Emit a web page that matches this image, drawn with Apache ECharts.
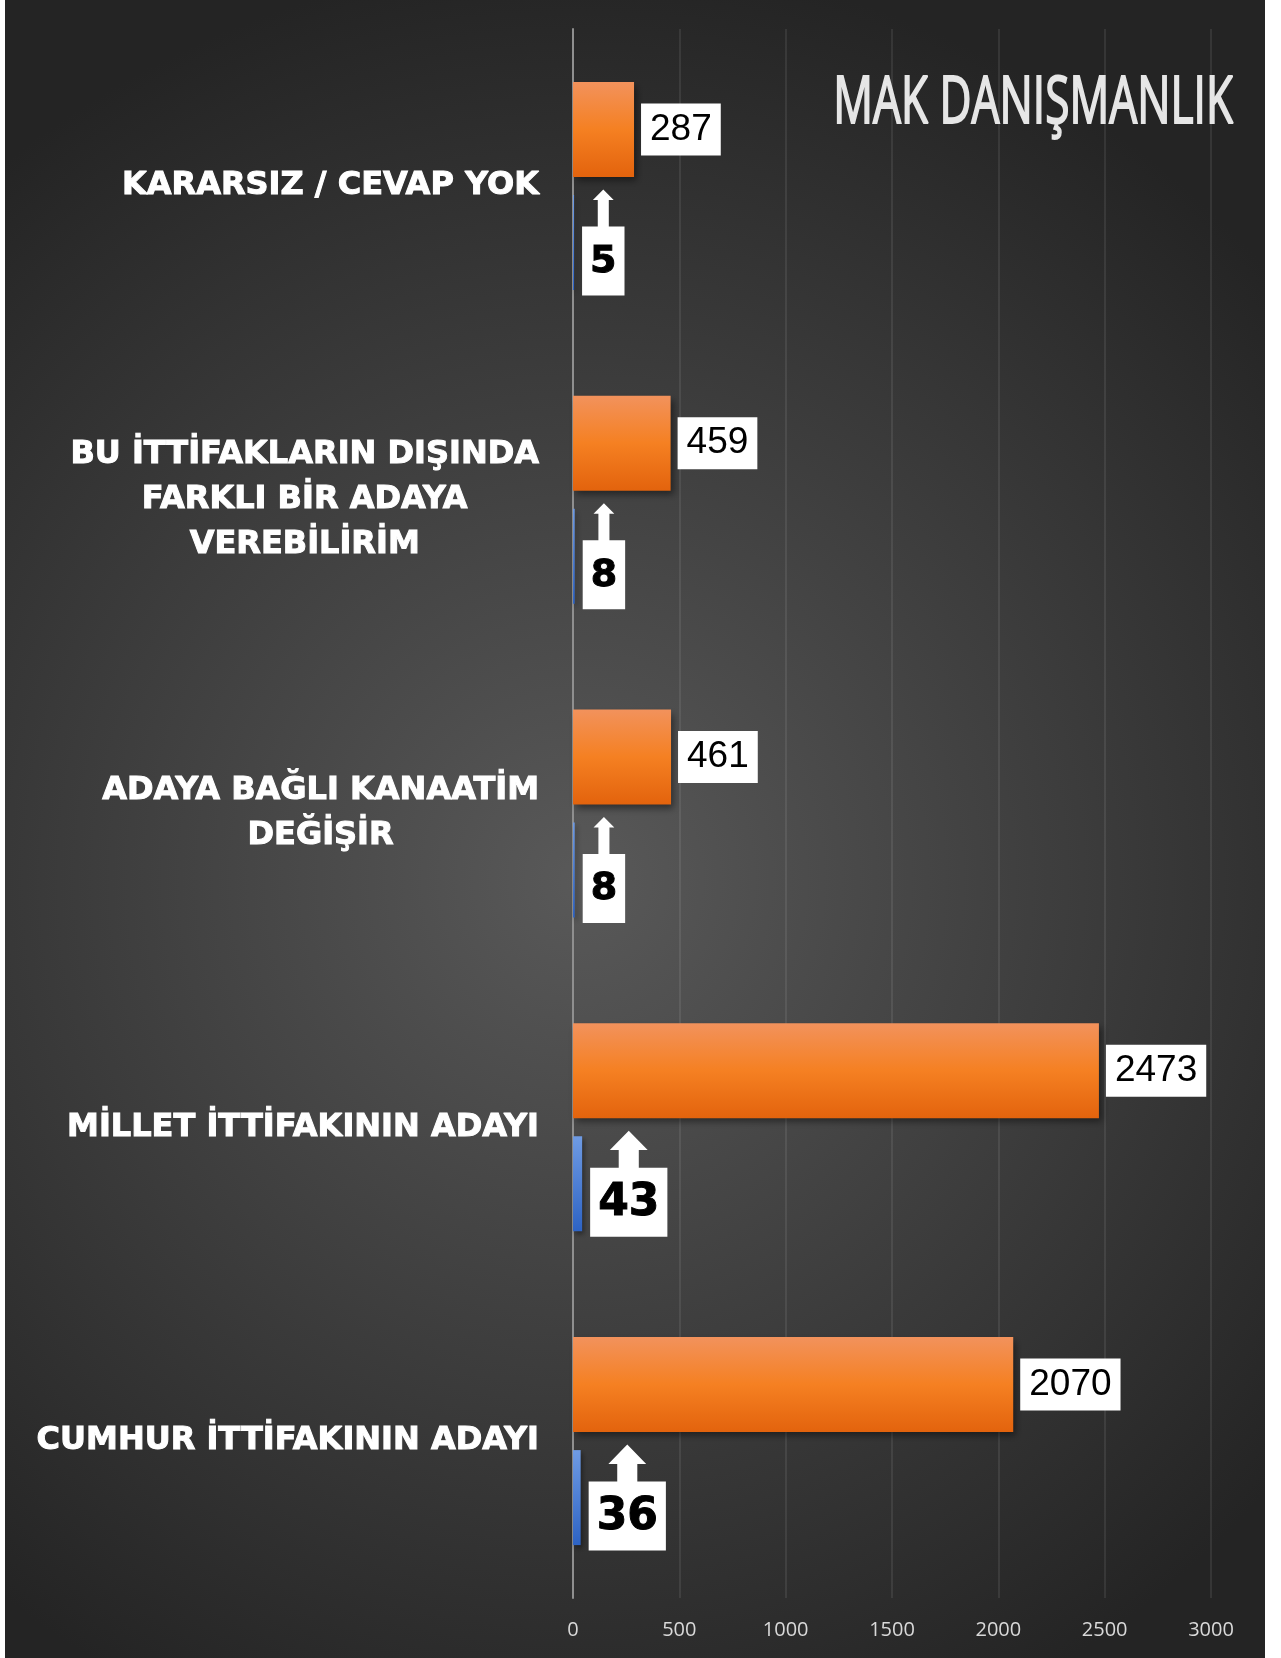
<!DOCTYPE html>
<html>
<head>
<meta charset="utf-8">
<script src="https://cdn.jsdelivr.net/npm/echarts@6/dist/echarts.min.js"></script>
<style>
  html, body { margin: 0; padding: 0; background: #ffffff; }
  #chart { width: 1281px; height: 1658px; }
</style>
</head>
<body>
<div id="chart"></div>
<script>
// Categories, bottom to top
const categories = [
  'CUMHUR İTTİFAKININ ADAYI',
  'MİLLET İTTİFAKININ ADAYI',
  'ADAYA BAĞLI KANAATİM\nDEĞİŞİR',
  'BU İTTİFAKLARIN DIŞINDA\nFARKLI BİR ADAYA\nVEREBİLİRİM',
  'KARARSIZ / CEVAP YOK'
];
const orangeValues = [2070, 2473, 461, 459, 287];
const blueValues = [36, 43, 8, 8, 5];
const axisMin = 0;
const axisMax = 3000;
const axisStep = 500;
const watermarkText = 'MAK DANIŞMANLIK';

// Bar geometry (px)
const BAR_W = 95;
const BAR_GAP_PX = 18;

const chart = echarts.init(document.getElementById('chart'), null, { renderer: 'canvas' });

const measureCtx = document.createElement('canvas').getContext('2d');

// Up-arrow callout drawn beside each blue bar
function renderCallout(params, api) {
  const v = api.value(0);
  const c = api.value(1);
  const p = api.coord([v, c]);
  const yc = p[1] + (BAR_W + BAR_GAP_PX) / 2;
  const txt = String(v);
  const fs = txt.length > 1 ? 44 : 38;
  const font = 'bold ' + fs + 'px "DejaVu Sans"';
  measureCtx.font = font;
  const tw = measureCtx.measureText(txt).width;
  const boxW = tw + 16;
  const boxH = 69;
  const arrowH = 37;
  const x0 = p[0] + 8;
  const top = yc - (boxH + arrowH) / 2;
  const boxTop = top + arrowH;
  const cx = x0 + boxW / 2;
  const headW = boxW * 0.49;
  const shaftW = boxW * 0.26;
  const headH = boxW * 0.25;
  return {
    type: 'group',
    children: [
      {
        type: 'polygon',
        shape: {
          points: [
            [cx, top],
            [cx + headW / 2, top + headH],
            [cx + shaftW / 2, top + headH],
            [cx + shaftW / 2, boxTop + 1],
            [cx - shaftW / 2, boxTop + 1],
            [cx - shaftW / 2, top + headH],
            [cx - headW / 2, top + headH]
          ]
        },
        style: { fill: '#ffffff' }
      },
      {
        type: 'rect',
        shape: { x: x0, y: boxTop, width: boxW, height: boxH },
        style: { fill: '#ffffff' }
      },
      {
        type: 'text',
        style: {
          text: txt,
          x: cx,
          y: boxTop + boxH / 2 + 1,
          align: 'center',
          verticalAlign: 'middle',
          font: font,
          fill: '#000000',
          stroke: '#000000',
          lineWidth: 1
        }
      }
    ]
  };
}

const option = {
  animation: false,
  backgroundColor: '#ffffff',
  graphic: {
    elements: [
      {
        type: 'rect',
        silent: true,
        z: -100,
        shape: { x: 5, y: 0, width: 1260, height: 1658 },
        style: {
          fill: new echarts.graphic.RadialGradient(580, 880, 920, [
            { offset: 0, color: '#595959' },
            { offset: 1, color: '#242424' }
          ], true)
        }
      },
      {
        type: 'text',
        silent: true,
        z: 10,
        x: 1233,
        y: 104,
        scaleX: 0.67,
        style: {
          text: watermarkText,
          font: '66px "Open Sans"',
          fill: '#e6e6e6',
          stroke: '#e6e6e6',
          lineWidth: 2,
          align: 'right',
          verticalAlign: 'middle',
          shadowBlur: 5,
          shadowColor: 'rgba(255,255,255,0.6)'
        }
      }
    ]
  },
  grid: {
    left: 573,
    right: 70,
    top: 29,
    bottom: 60,
    containLabel: false
  },
  xAxis: {
    type: 'value',
    min: axisMin,
    max: axisMax,
    interval: axisStep,
    axisLine: { show: false },
    axisTick: { show: false },
    splitLine: { show: true, lineStyle: { color: 'rgba(255,255,255,0.11)', width: 1.5 } },
    axisLabel: {
      color: '#d9d9d9',
      fontFamily: '"Open Sans"',
      fontSize: 20,
      margin: 22,
      formatter: function (v) { return String(v); }
    }
  },
  yAxis: {
    type: 'category',
    data: categories,
    axisLine: { show: true, lineStyle: { color: '#8f8f8f', width: 2 } },
    axisTick: { show: false },
    splitLine: { show: false },
    axisLabel: {
      margin: 34,
      formatter: function (val) {
        return val.split('\n').map(function (l) { return '{c|' + l + '}'; }).join('\n');
      },
      rich: {
        c: {
          fontFamily: '"DejaVu Sans"',
          fontWeight: 'bold',
          fontSize: 32,
          lineHeight: 45,
          color: '#ffffff',
          textBorderColor: '#ffffff',
          textBorderWidth: 1,
          align: 'center'
        }
      }
    }
  },
  series: [
    {
      name: 'orange',
      type: 'bar',
      data: orangeValues,
      barWidth: BAR_W,
      barGap: (BAR_GAP_PX / BAR_W * 100) + '%',
      itemStyle: {
        color: new echarts.graphic.LinearGradient(0, 0, 0, 1, [
          { offset: 0, color: '#f2925c' },
          { offset: 0.5, color: '#f58022' },
          { offset: 1, color: '#e3630d' }
        ]),
        shadowColor: 'rgba(0,0,0,0.45)',
        shadowBlur: 7,
        shadowOffsetX: 3,
        shadowOffsetY: 4
      },
      label: {
        show: true,
        position: 'right',
        distance: 7,
        color: '#000000',
        fontFamily: '"Liberation Sans"',
        fontSize: 37,
        lineHeight: 40,
        backgroundColor: '#ffffff',
        padding: [6, 9, 6, 9]
      },
      z: 3
    },
    {
      name: 'blue',
      type: 'bar',
      data: blueValues,
      barWidth: BAR_W,
      itemStyle: {
        color: new echarts.graphic.LinearGradient(0, 0, 0, 1, [
          { offset: 0, color: '#6f9be3' },
          { offset: 1, color: '#2d63c4' }
        ]),
        shadowColor: 'rgba(0,0,0,0.4)',
        shadowBlur: 5,
        shadowOffsetX: 2,
        shadowOffsetY: 3
      },
      z: 3
    },
    {
      name: 'callouts',
      type: 'custom',
      renderItem: renderCallout,
      data: blueValues.map(function (v, i) { return [v, i]; }),
      encode: { x: 0, y: 1 },
      clip: false,
      z: 5
    }
  ]
};

chart.setOption(option);
</script>
</body>
</html>
